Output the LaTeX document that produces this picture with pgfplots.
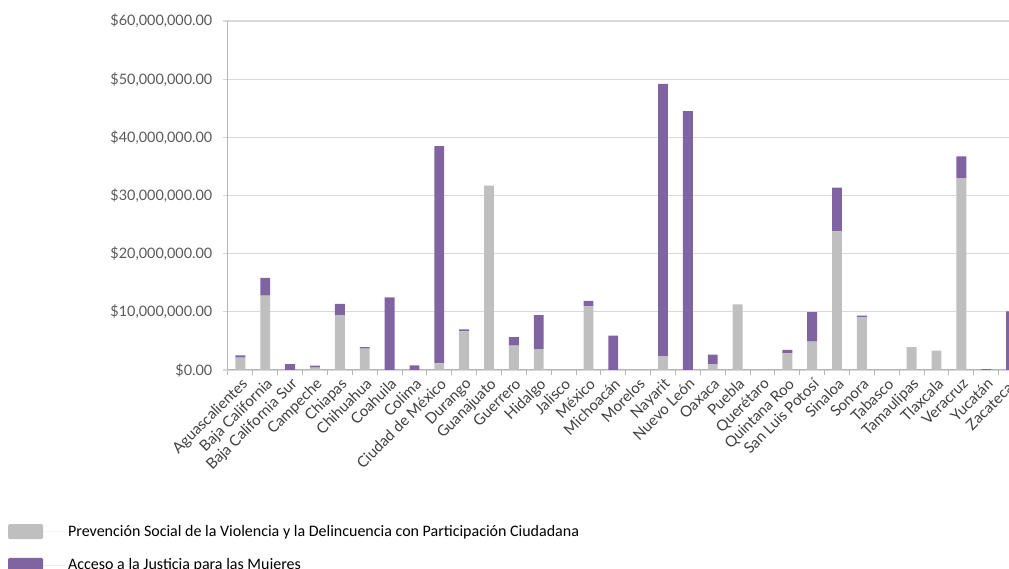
\documentclass[border=0pt]{standalone}
\usepackage{fontspec}
\setmainfont{Carlito}
\newfontfamily\latofont{Lato}
\usepackage{pgfplots}
\usepackage{pgfplotstable}
\pgfplotsset{compat=1.18}
\definecolor{prevgray}{RGB}{191,191,191}
\definecolor{accpurple}{RGB}{128,100,162}
\definecolor{gridgray}{RGB}{217,217,217}
\definecolor{axisgray}{RGB}{180,180,180}
\definecolor{labelgray}{RGB}{89,89,89}

% montos en millones de pesos
\pgfplotstableread{
idx prev acc
0 2.12 0.41
1 12.78 3.04
2 0 1.03
3 0.40 0.34
4 9.45 1.90
5 3.67 0.28
6 0 12.50
7 0 0.80
8 1.15 37.35
9 6.65 0.35
10 31.70 0
11 4.18 1.49
12 3.60 5.85
13 0 0
14 10.95 0.95
15 0 5.90
16 0 0
17 2.40 46.80
18 0 44.50
19 1.03 1.61
20 11.29 0
21 0 0
22 2.86 0.58
23 4.87 5.10
24 23.84 7.51
25 9.05 0.29
26 0 0
27 3.95 0
28 3.33 0
29 33.00 3.73
30 0 0.15
31 0 10.08
}\datos

\begin{document}
\begin{tikzpicture}
\begin{axis}[
    name=ax,
    scale only axis,
    width=596.6pt, height=261.75pt,
    ybar stacked, bar width=7.4pt,
    xmin=-0.5, xmax=31.5, ymin=0, ymax=60,
    enlargelimits=false,
    axis lines*=left,
    axis line style={axisgray, line width=0.75pt},
    tick align=outside,
    major tick length=3.75pt, minor tick length=3.75pt,
    ytick={0,10,...,60},
    yticklabels={{\$0.00},{\$10,000,000.00},{\$20,000,000.00},{\$30,000,000.00},{\$40,000,000.00},{\$50,000,000.00},{\$60,000,000.00}},
    y tick style={gridgray, line width=0.9pt},
    yticklabel style={xshift=-4.5pt, font=\latofont\fontsize{10.8}{12}\selectfont, text=labelgray},
    xtick={0,...,31},
    xticklabels={Aguascalientes,Baja California,Baja California Sur,Campeche,Chiapas,Chihuahua,Coahuila,Colima,Ciudad de México,Durango,Guanajuato,Guerrero,Hidalgo,Jalisco,México,Michoacán,Morelos,Nayarit,Nuevo León,Oaxaca,Puebla,Querétaro,Quintana Roo,San Luis Potosí,Sinaloa,Sonora,Tabasco,Tamaulipas,Tlaxcala,Veracruz,Yucatán,Zacatecas},
    major x tick style={draw=none},
    minor xtick={-0.5,0.5,...,31.5},
    minor x tick style={axisgray, line width=0.75pt},
    xticklabel style={rotate=45, anchor=north east, inner sep=1pt, font=\latofont\fontsize{11.3}{12}\selectfont, text=black!75},
    ymajorgrids,
    major grid style={gridgray, line width=0.9pt},
    legend cell align=left,
    legend style={at={(axis description cs:-0.2767,-0.436)}, anchor=north west, draw=none, fill=none, inner sep=0pt, row sep=11.5pt, font=\fontsize{12}{13}\selectfont},
    legend image code/.code={\fill[#1, rounded corners=1pt] (0pt,-5.6pt) rectangle (26.25pt,5.6pt); \path (0pt,0pt) -- (43pt,0pt);},
]
\addplot[fill=prevgray, draw=none] table[x=idx, y=prev] {\datos};
\addlegendentry{Prevención Social de la Violencia y la Delincuencia con Participación Ciudadana}
\addplot[fill=accpurple, draw=none] table[x=idx, y=acc] {\datos};
\addlegendentry{Acceso a la Justicia para las Mujeres}
\end{axis}
\pgfresetboundingbox
\path[use as bounding box] ([xshift=-171pt,yshift=-149.25pt]ax.south west) rectangle ([xshift=585.75pt,yshift=15.75pt]ax.north west);
\end{tikzpicture}
\end{document}
